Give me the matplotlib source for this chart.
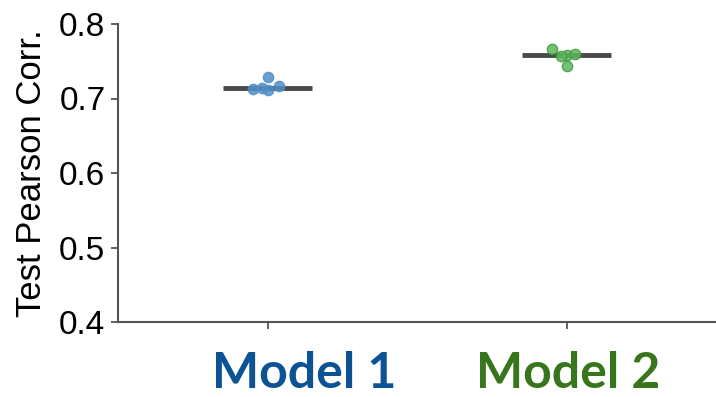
import matplotlib
matplotlib.use("Agg")
import matplotlib.pyplot as plt
import numpy as np

models = ["Model 1", "Model 2"]
model1_scores = [0.729, 0.713, 0.711, 0.717, 0.714]
model2_scores = [0.766, 0.758, 0.760, 0.744, 0.757]
model1_offsets = [0.0, -0.05, 0.0, 0.04, -0.02]
model2_offsets = [-0.05, 0.0, 0.03, 0.0, -0.02]
yticks = [0.4, 0.5, 0.6, 0.7, 0.8]

point_colors = ["#4f8fc6", "#5cb85c"]
edge_colors = ["#4f8fc6", "#3f9a3f"]
label_colors = ["#0b5394", "#38761d"]

fig = plt.figure(figsize=(7.16, 3.97), dpi=100)
ax = fig.add_axes([118 / 716, 1 - 322 / 397, 598 / 716, 298 / 397])

scores = [model1_scores, model2_scores]
offsets = [model1_offsets, model2_offsets]
for i, (vals, offs) in enumerate(zip(scores, offsets)):
    med = float(np.median(vals))
    ax.scatter(np.array(offs) + i, vals, s=55, color=point_colors[i],
               alpha=0.85, edgecolor=edge_colors[i], linewidth=1, zorder=3)
    ax.plot([i - 0.15, i + 0.15], [med, med], color="#4a4a4a",
            linewidth=3.5, solid_capstyle="butt", zorder=2)

ax.set_xlim(-0.5, 1.5)
ax.set_ylim(0.4, 0.8)
ax.set_xticks([0, 1])
ax.set_xticklabels(["", ""])
ax.set_yticks(yticks)
ax.set_yticklabels([f"{v:.1f}" for v in yticks], fontsize=24,
                   family="Liberation Sans")
ax.set_ylabel("Test Pearson Corr.", fontsize=25, family="Liberation Sans",
              labelpad=8)
for side in ("top", "right"):
    ax.spines[side].set_visible(False)
for side in ("left", "bottom"):
    ax.spines[side].set_color("#555555")
    ax.spines[side].set_linewidth(1.5)
ax.tick_params(axis="both", colors="#555555", width=1.3, length=5,
               labelcolor="black", pad=4)

label_x = [304, 568]
for name, x, c in zip(models, label_x, label_colors):
    fig.text(x / 716, 1 - 374 / 397, name, ha="center", va="center",
             fontsize=36, fontweight="bold", family="Lato", color=c)

fig.savefig("out.png", dpi=100)
